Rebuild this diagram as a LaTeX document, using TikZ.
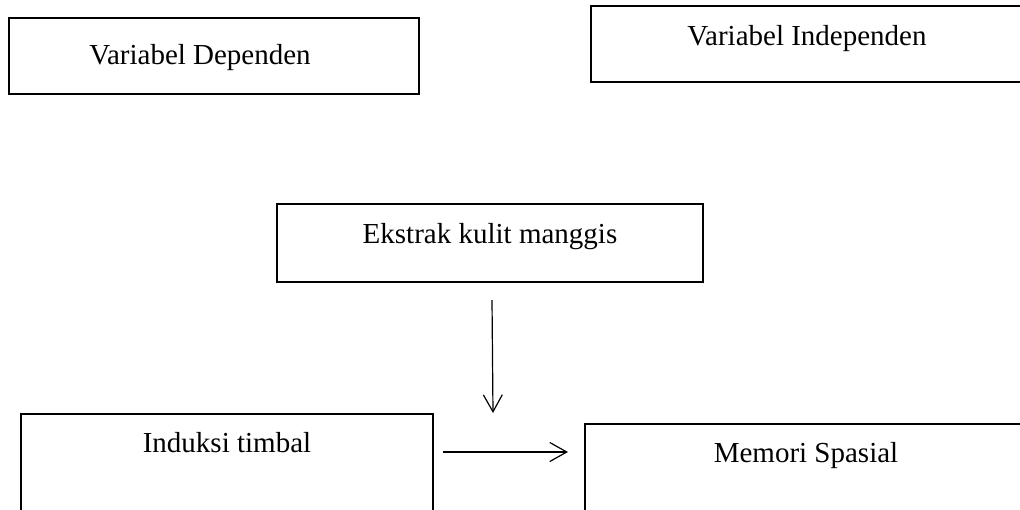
\documentclass[tikz,border=0pt]{standalone}
\usepackage{fontspec}
\setmainfont{Liberation Serif}
\usetikzlibrary{arrows.meta,calc}
\begin{document}
\begin{tikzpicture}[x=1pt,y=-1pt,
  box/.style={draw=black,line width=1.2pt,inner sep=0pt,outer sep=0pt,anchor=north west},
  lbl/.style={font=\fontsize{29}{34}\selectfont,anchor=base,inner sep=0pt},
  conn/.style={line width=1.2pt,-{Straight Barb[length=17pt,width=19pt]}}]
\useasboundingbox (0,0) rectangle (1020,509);
\clip (0,0) rectangle (1020,509);
% boxes
\node[box,minimum width=410pt,minimum height=76pt] (vd) at (9,18) {};
\node[box,minimum width=440pt,minimum height=76pt] (vi) at (591,6) {};
\node[box,minimum width=426pt,minimum height=78pt] (ek) at (277,204) {};
\node[box,minimum width=412pt,minimum height=110pt] (ind) at (21,414) {};
\node[box,minimum width=440pt,minimum height=100pt] (mem) at (585,424) {};
% labels
\node[lbl] (vdt) at (200,64) {Variabel Dependen};
\node[lbl] (vit) at (807,45) {Variabel Independen};
\node[lbl] (ekt) at (490,243) {Ekstrak kulit manggis};
\node[lbl] (indt) at (227,452) {Induksi timbal};
\node[lbl] (memt) at (806,462) {Memori Spasial};
% connectors
\coordinate (vend) at (493,413);
\draw[conn] ($(ek.south)+(2,18)$) -- (vend);
\draw[conn] ($(ind.north east)+(10,38)$) -- ($(mem.north west)+(-17,28)$);
\end{tikzpicture}
\end{document}
